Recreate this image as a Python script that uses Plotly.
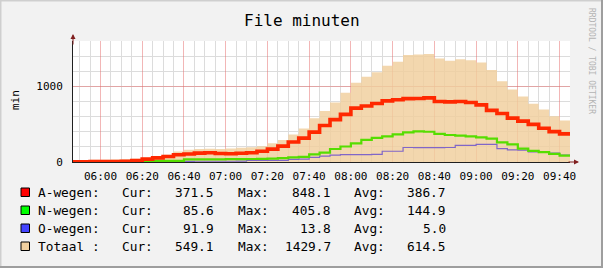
import pandas as pd
import plotly.graph_objects as go

# ---------------- data ----------------
title_text = "File minuten"
y_label = "min"
watermark = "RRDTOOL / TOBI OETIKER"

# interval start times (5 minute steps) and graph end time
times = pd.date_range("2024-01-01 05:45", periods=48, freq="5min")
end_time = pd.Timestamp("2024-01-01 09:45")
x_start = pd.Timestamp("2024-01-01 05:46:50")

a_wegen = [4, 4, 5, 5, 6, 8, 20, 38, 55, 72, 95, 106, 117, 122, 112, 110,
           115, 122, 143, 170, 210, 265, 316, 395, 482, 560, 630, 712, 740,
           773, 808, 824, 838, 840, 848.1, 800, 795, 800, 787, 755, 683, 641,
           580, 540, 497, 446, 402, 371.5]
n_wegen = [8, 8, 10, 10, 12, 12, 13, 13, 14, 14, 15, 34, 35, 36, 36, 37,
           38, 40, 42, 44, 50, 62, 68, 100, 125, 172, 205, 245, 292, 320,
           340, 365, 392, 405.8, 400, 373, 357, 348, 338, 326, 310, 260, 232,
           177, 146, 130, 108, 85.6]
o_wegen = [3, 3, 3, 4, 4, 5, 5, 6, 8, 9, 9, 9, 10, 10, 10, 10, 12, 20, 20,
           22, 22, 36, 38, 60, 78, 92, 98, 98, 98, 100, 142, 142, 192, 190,
           190, 190, 192, 221, 221, 234, 234, 177, 160, 157, 135, 133, 119,
           91.9]
totaal = [25, 28, 30, 30, 32, 35, 44, 55, 78, 95, 140, 162, 172, 175, 172,
          177, 190, 195, 208, 247, 292, 365, 442, 578, 676, 787, 915, 1047,
          1127, 1188, 1272, 1325, 1414, 1422, 1429.7, 1370, 1338, 1358, 1347,
          1315, 1215, 1069, 959, 865, 770, 694, 605, 549.1]

legend_names = ["A-wegen:", "N-wegen:", "O-wegen:", "Totaal :"]
legend_cur = ["371.5", "85.6", "91.9", "549.1"]
legend_max = ["848.1", "405.8", "13.8", "1429.7"]
legend_avg = ["386.7", "144.9", "5.0", "614.5"]
legend_colors = ["#FF0000", "#00FF00", "#4444FF", "#F0D0A0"]

# ---------------- styling ----------------
W, H = 603, 268
L, R, T, B = 73, 33, 41, 106
PW, PH = W - L - R, H - T - B
FONT = "DejaVu Sans Mono"
BG = "#F2F2F2"


def px(X):
    return (X - L) / PW


def py(Y):
    return (H - B - Y) / PH


# step series: close last step at graph end time
xs = list(times) + [end_time]


def close(v):
    return list(v) + [v[-1]]


fig = go.Figure()
fig.add_trace(go.Scatter(x=xs, y=close(totaal), mode="lines", line_shape="hv",
                         line=dict(width=0), fill="tozeroy",
                         fillcolor="rgba(240,206,156,0.82)", hoverinfo="skip"))
fig.add_trace(go.Scatter(x=xs, y=close(o_wegen), mode="lines", line_shape="hv",
                         line=dict(color="#8066C8", width=1.2)))
fig.add_trace(go.Scatter(x=xs, y=close(n_wegen), mode="lines", line_shape="hv",
                         line=dict(color="#55DD00", width=2.2)))
fig.add_trace(go.Scatter(x=xs, y=close(a_wegen), mode="lines", line_shape="hv",
                         line=dict(color="#FF2800", width=3.6)))

minor_grid = "#DCDCDC"
major_grid = "rgba(230,110,110,0.5)"

fig.update_xaxes(range=[x_start, end_time], tickformat="%H:%M",
                 tick0="2024-01-01 06:00", dtick=20 * 60 * 1000,
                 showgrid=True, gridcolor=major_grid, gridwidth=1,
                 minor=dict(dtick=5 * 60 * 1000, tick0="2024-01-01 06:00",
                            showgrid=True, gridcolor=minor_grid, gridwidth=1),
                 showline=True, linecolor="#1F1F1F", linewidth=1,
                 ticks="", ticklabelstandoff=4,
                 tickfont=dict(family=FONT, size=11, color="#000000"),
                 zeroline=False, fixedrange=True)
fig.update_yaxes(range=[0, 1600], tickvals=[0, 1000], ticktext=["0", "1000"],
                 showgrid=True, gridcolor=major_grid, gridwidth=1,
                 minor=dict(dtick=200, showgrid=True, gridcolor=minor_grid,
                            gridwidth=1),
                 showline=True, linecolor="#1F1F1F", linewidth=1,
                 ticks="", ticklabelstandoff=7,
                 tickfont=dict(family=FONT, size=11, color="#000000"),
                 zeroline=False, fixedrange=True)

annotations = []
shapes = []

# title
annotations.append(dict(text=title_text, x=px(301.5), y=py(20.5), xref="paper",
                        yref="paper", showarrow=False, xanchor="center",
                        yanchor="middle",
                        font=dict(family=FONT, size=16, color="#000000")))
# y label
annotations.append(dict(text=y_label, x=px(15), y=py(100), xref="paper",
                        yref="paper", showarrow=False, textangle=-90,
                        xanchor="center", yanchor="middle",
                        font=dict(family=FONT, size=11, color="#000000")))
# watermark
annotations.append(dict(text=watermark, x=px(592), y=py(61), xref="paper",
                        yref="paper", showarrow=False, textangle=90,
                        xanchor="center", yanchor="middle",
                        font=dict(family=FONT, size=8, color="#B4B4B4")))
# axis arrows
annotations.append(dict(text="", x=px(579), y=0, xref="paper", yref="paper",
                        ax=-12, ay=0, showarrow=True, arrowhead=2,
                        arrowsize=1, arrowwidth=1, arrowcolor="#801F1F",
                        standoff=0))
annotations.append(dict(text="", x=0, y=py(34), xref="paper", yref="paper",
                        ax=0, ay=12, showarrow=True, arrowhead=2,
                        arrowsize=1, arrowwidth=1, arrowcolor="#801F1F",
                        standoff=0))

# legend
row_y = [192, 210, 228, 246]
lf = dict(family=FONT, size=12.8, color="#000000")
for i in range(4):
    cy = row_y[i]
    shapes.append(dict(type="rect", xref="paper", yref="paper",
                       x0=px(21), x1=px(29.5), y0=py(cy + 4.5), y1=py(cy - 4),
                       fillcolor=legend_colors[i],
                       line=dict(color="#000000", width=1)))
    cols = [(legend_names[i], 36, "left"), ("Cur:", 120, "left"),
            (legend_cur[i], 216, "right"), ("Max:", 236, "left"),
            (legend_max[i], 333, "right"), ("Avg:", 352, "left"),
            (legend_avg[i], 448, "right")]
    for txt, xx, anc in cols:
        annotations.append(dict(text=txt, x=px(xx), y=py(cy), xref="paper",
                                yref="paper", showarrow=False, xanchor=anc,
                                yanchor="middle", font=lf))

# frame (shade A top/left, shade B bottom/right)
shapes.append(dict(type="line", xref="paper", yref="paper", x0=px(0), x1=px(W),
                   y0=py(0.5), y1=py(0.5), line=dict(color="#CFCFCF", width=2)))
shapes.append(dict(type="line", xref="paper", yref="paper", x0=px(0.5),
                   x1=px(0.5), y0=py(0), y1=py(H),
                   line=dict(color="#CFCFCF", width=2)))
shapes.append(dict(type="line", xref="paper", yref="paper", x0=px(W - 1),
                   x1=px(W - 1), y0=py(0), y1=py(H),
                   line=dict(color="#9E9E9E", width=2)))
shapes.append(dict(type="line", xref="paper", yref="paper", x0=px(0), x1=px(W),
                   y0=py(H - 1), y1=py(H - 1),
                   line=dict(color="#9E9E9E", width=2)))

fig.update_layout(width=W, height=H, margin=dict(l=L, r=R, t=T, b=B),
                  paper_bgcolor=BG, plot_bgcolor="#FFFFFF", showlegend=False,
                  annotations=annotations, shapes=shapes,
                  font=dict(family=FONT))

fig.write_html("out.html", config={"displayModeBar": False})
